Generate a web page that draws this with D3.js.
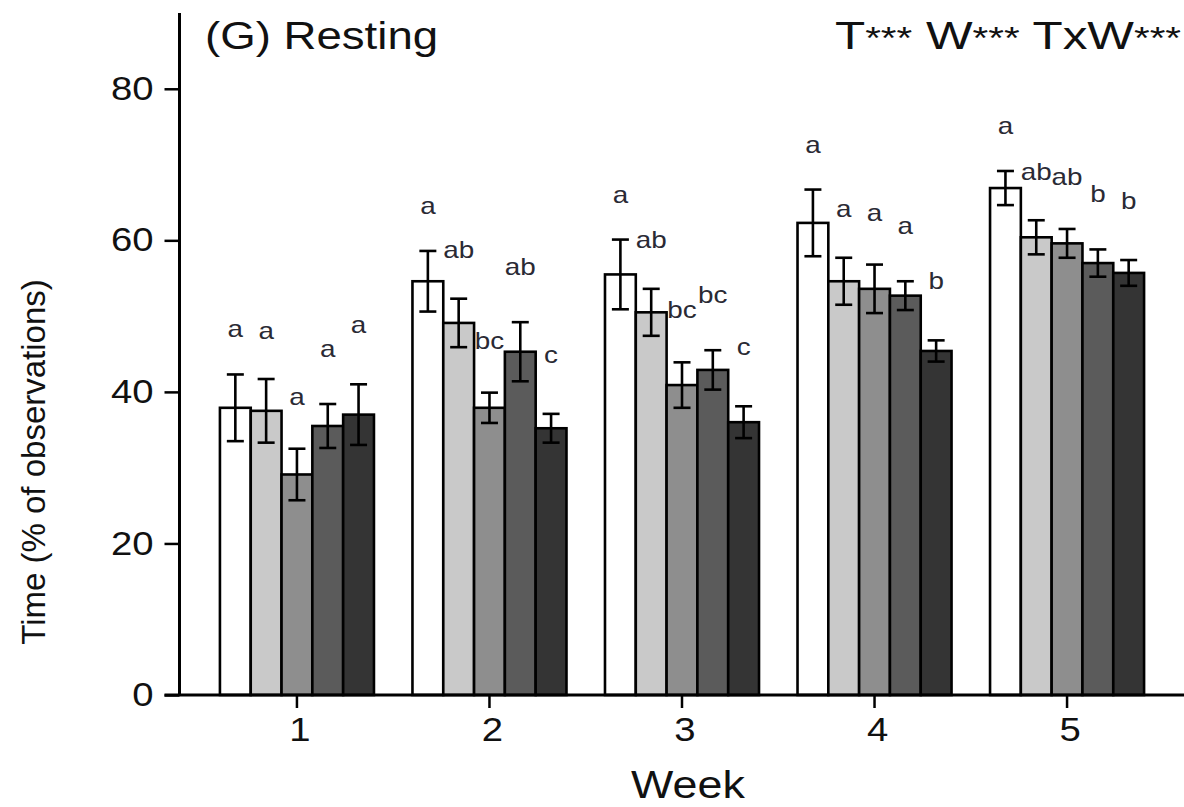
<!DOCTYPE html>
<html>
<head>
<meta charset="utf-8">
<script src="https://cdn.jsdelivr.net/npm/d3@7"></script>
<style>
  html, body { margin: 0; padding: 0; background: #fff; }
  svg { display: block; }
  text { font-family: "Liberation Sans", Arial, sans-serif; fill: #111; }
</style>
</head>
<body>
<svg id="chart" width="1184" height="807"></svg>
<script>
// Weekly resting time, mean ± SE for five treatment groups
const weeks = ["1", "2", "3", "4", "5"];
const groupKeys = ["g1", "g2", "g3", "g4", "g5"];
const groupFills = ["#ffffff", "#c9c9c9", "#8e8e8e", "#5b5b5b", "#343434"];

const meanG1 = [37.9, 54.6, 55.5, 62.3, 66.9];
const seG1   = [4.4, 4.0, 4.6, 4.4, 2.25];
const meanG2 = [37.5, 49.1, 50.5, 54.6, 60.4];
const seG2   = [4.2, 3.2, 3.1, 3.1, 2.25];
const meanG3 = [29.1, 37.9, 40.9, 53.6, 59.6];
const seG3   = [3.4, 2.0, 3.0, 3.2, 1.9];
const meanG4 = [35.5, 45.3, 42.9, 52.7, 57.0];
const seG4   = [2.9, 3.9, 2.6, 1.9, 1.8];
const meanG5 = [37.0, 35.2, 36.0, 45.4, 55.7];
const seG5   = [4.0, 1.9, 2.1, 1.4, 1.7];

// post-hoc letters (within each week)
const lettersG1 = ["a", "a", "a", "a", "a"];
const lettersG2 = ["a", "ab", "ab", "a", "ab"];
const lettersG3 = ["a", "bc", "bc", "a", "ab"];
const lettersG4 = ["a", "ab", "bc", "a", "b"];
const lettersG5 = ["a", "c", "c", "b", "b"];

const yTicks = [0, 20, 40, 60, 80];
const panelTitle = "(G) Resting";
const statsText = [["T", "***"], [" W", "***"], [" TxW", "***"]];
const xTitle = "Week";
const yTitle = "Time (% of observations)";

const means = [meanG1, meanG2, meanG3, meanG4, meanG5];
const ses = [seG1, seG2, seG3, seG4, seG5];
const letters = [lettersG1, lettersG2, lettersG3, lettersG4, lettersG5];

const rows = [];
weeks.forEach((w, wi) => {
  groupKeys.forEach((g, gi) => {
    rows.push({ week: w, group: g, gi, mean: means[gi][wi], se: ses[gi][wi], letter: letters[gi][wi] });
  });
});

const svg = d3.select("#chart");
const plotLeft = 179.5, plotRight = 1184.5, plotTop = 13, plotBottom = 695;
const stretch = 1.16; // horizontal glyph stretch used for upright text

const x = d3.scaleBand().domain(weeks).range([plotLeft, plotRight]).paddingInner(0.2).paddingOuter(0.21);
const xg = d3.scaleBand().domain(groupKeys).range([0, x.bandwidth()]).padding(0);
const y = d3.scaleLinear().domain([0, 90]).range([plotBottom, plotTop]);
const fill = d3.scaleOrdinal().domain(groupKeys).range(groupFills);

// bars
const cells = svg.append("g").selectAll("g.cell").data(rows).join("g")
  .attr("class", "cell")
  .attr("transform", d => `translate(${x(d.week) + xg(d.group)},0)`);

cells.append("rect")
  .attr("x", 0)
  .attr("y", d => y(d.mean))
  .attr("width", xg.bandwidth())
  .attr("height", d => y(0) - y(d.mean))
  .attr("fill", d => fill(d.group))
  .attr("stroke", "#000")
  .attr("stroke-width", 2.6);

// error bars
const cx = xg.bandwidth() / 2, cap = 8.5;
cells.append("line")
  .attr("x1", cx).attr("x2", cx)
  .attr("y1", d => y(d.mean + d.se)).attr("y2", d => y(d.mean - d.se))
  .attr("stroke", "#000").attr("stroke-width", 2.6);
cells.append("line")
  .attr("x1", cx - cap).attr("x2", cx + cap)
  .attr("y1", d => y(d.mean + d.se)).attr("y2", d => y(d.mean + d.se))
  .attr("stroke", "#000").attr("stroke-width", 2.6);
cells.append("line")
  .attr("x1", cx - cap).attr("x2", cx + cap)
  .attr("y1", d => y(d.mean - d.se)).attr("y2", d => y(d.mean - d.se))
  .attr("stroke", "#000").attr("stroke-width", 2.6);

// letters above the error bars
cells.append("text")
  .attr("transform", d => `translate(${cx},${y(d.mean + d.se) - (37 + 3.5 * d.gi)}) scale(${stretch},1)`)
  .attr("text-anchor", "middle")
  .style("font-size", "24px")
  .style("fill", "#2a2a34")
  .text(d => d.letter);

// axes
const yAxis = d3.axisLeft(y).tickValues(yTicks).tickSize(15).tickPadding(10).tickSizeOuter(0);
const ya = svg.append("g").attr("transform", `translate(${plotLeft},0)`).call(yAxis);
ya.select(".domain").attr("stroke", "#000").attr("stroke-width", 3)
  .attr("d", `M0,${plotTop}V${plotBottom}`);
ya.selectAll(".tick line").attr("stroke", "#000").attr("stroke-width", 2.5);
ya.selectAll(".tick text")
  .attr("transform", `translate(-26,0) scale(${stretch},1)`).attr("x", 0)
  .style("font-size", "33px").attr("fill", "#111");

const xAxis = d3.axisBottom(x).tickSize(13).tickPadding(10).tickSizeOuter(0);
const xa = svg.append("g").attr("transform", `translate(0,${plotBottom})`).call(xAxis);
xa.select(".domain").attr("stroke", "#000").attr("stroke-width", 3)
  .attr("d", `M${plotLeft - 15},0H${plotRight}`);
xa.selectAll(".tick line").attr("stroke", "#000").attr("stroke-width", 2.5);
xa.selectAll(".tick text")
  .attr("transform", `translate(3,0) scale(${stretch},1)`)
  .style("font-size", "33px").attr("fill", "#111");

// titles
svg.append("text")
  .attr("transform", "translate(205,49) scale(1.2,1)")
  .style("font-size", "38px")
  .text(panelTitle);

const st = svg.append("text")
  .attr("transform", "translate(1181,49) scale(1.3,1)")
  .attr("text-anchor", "end")
  .style("font-size", "38px");
statsText.forEach(([lab, stars]) => {
  st.append("tspan").text(lab);
  st.append("tspan").style("font-size", "31px").text(stars);
});

svg.append("text")
  .attr("transform", `translate(${(plotLeft + plotRight) / 2 + 6},798) scale(1.15,1)`)
  .attr("text-anchor", "middle")
  .style("font-size", "39px")
  .text(xTitle);

svg.append("text")
  .attr("transform", "translate(45,462) rotate(-90)")
  .attr("text-anchor", "middle")
  .style("font-size", "33px")
  .text(yTitle);
</script>
</body>
</html>
